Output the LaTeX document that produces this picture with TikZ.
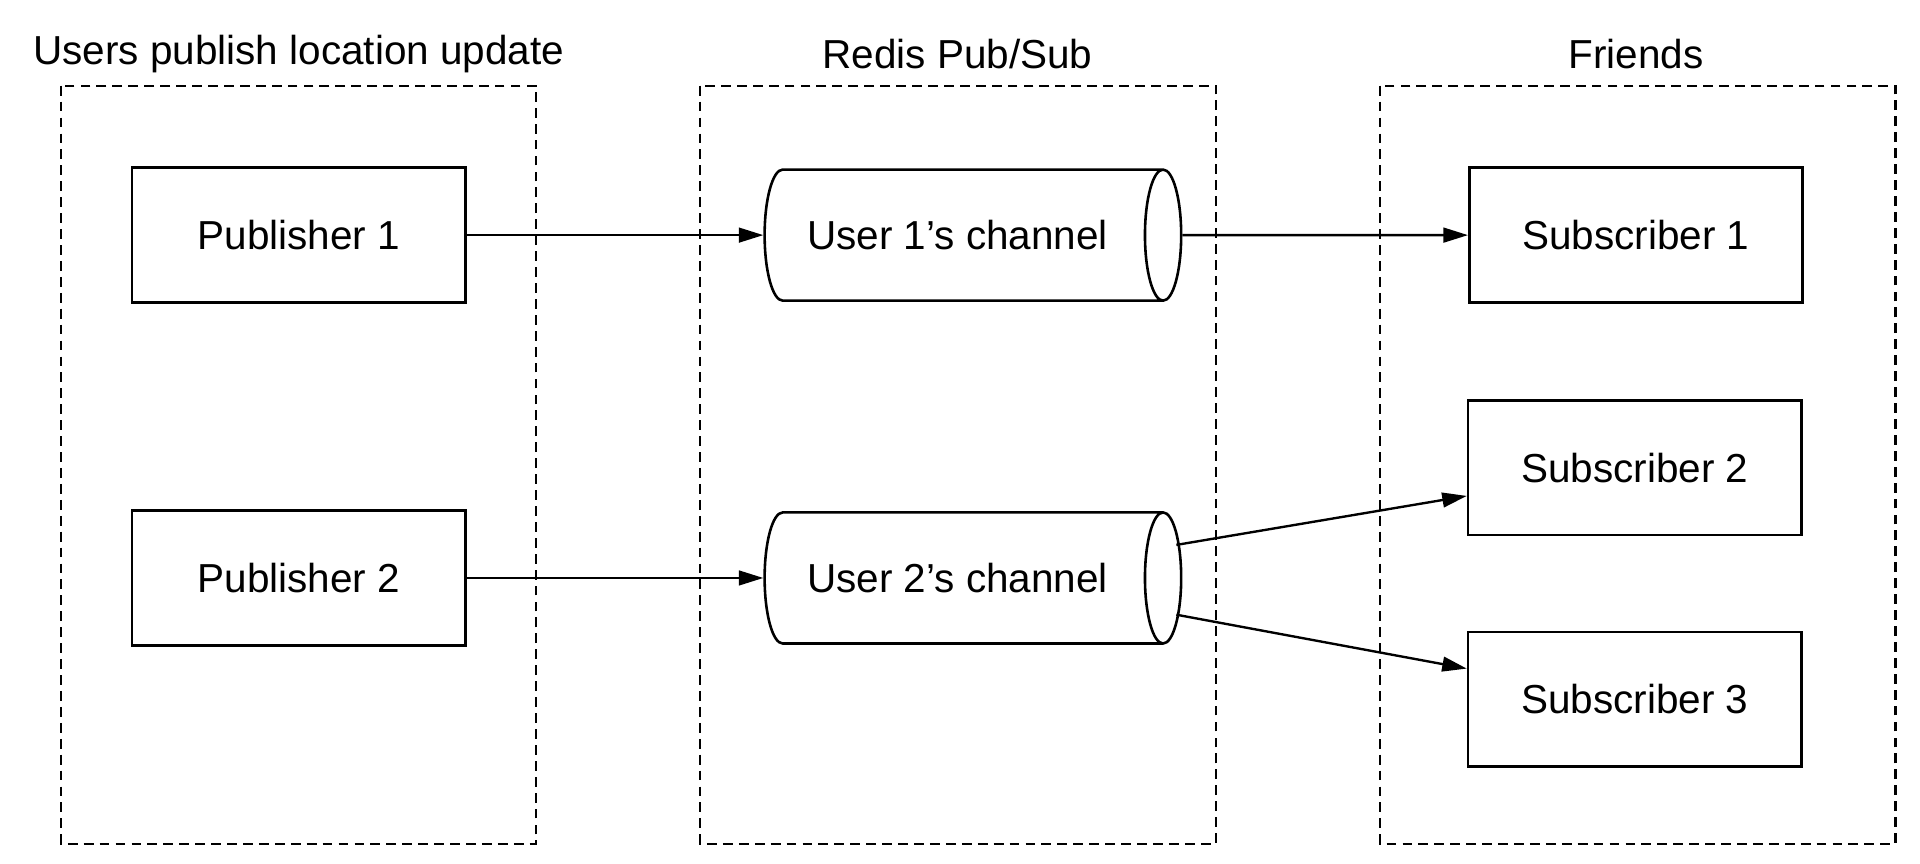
\documentclass[tikz,border=0pt]{standalone}
\usepackage{fontspec}
\setmainfont{Liberation Sans}
\usetikzlibrary{arrows.meta, positioning, calc, shapes.geometric}

\begin{document}
\begin{tikzpicture}
   [
      x=0.01cm, y=-0.01cm,
      group box/.style={draw, line width=0.5pt, dash pattern=on 0.08cm off 0.05cm},
      group title/.style={font=\fontsize{9.4}{11}\selectfont},
      client box/.style={rectangle, draw, line width=0.6pt, minimum width=2.72cm,
                         minimum height=1.1cm, font=\fontsize{9.4}{11}\selectfont},
      channel/.style={cylinder, draw, line width=0.6pt, aspect=0.62,
                      minimum width=1.07cm, minimum height=3.4cm,
                      font=\fontsize{9.4}{11}\selectfont},
      flow/.style={line width=0.55pt, -{Triangle[length=0.2cm, width=0.12cm]}}
   ]
   \useasboundingbox (0,0) rectangle (1568,705);

   % Group frames
   \draw[group box] (50,70) rectangle (438,689);
   \draw[group box] (572,70) rectangle (993,689);
   \draw[group box] (1127,70) rectangle (1548,689);

   % Group titles
   \node[group title] (title_pub) at (244,44) {Users publish location update};
   \node[group title] (title_redis) at (782,44) {Redis Pub/Sub};
   \node[group title] (title_friends) at (1336,44) {Friends};

   % Publishers
   \node[client box] (pub1) at (244,192) {Publisher 1};
   \node[client box] (pub2) at (244,472) {Publisher 2};

   % Channels
   \node[channel] (chan1) at (782,192) {User 1’s channel};
   \node[channel] (chan2) at (782,472) {User 2’s channel};

   % Subscribers
   \node[client box] (sub1) at (1336,192) {Subscriber 1};
   \node[client box] (sub2) at (1335,382) {Subscriber 2};
   \node[client box] (sub3) at (1335,571) {Subscriber 3};

   % Message flow
   \draw[flow] (pub1.east) -- (chan1.west);
   \draw[flow] (pub2.east) -- (chan2.west);
   \draw[flow] (chan1.east) -- (sub1.west);
   \draw[flow] ($(chan2.east)+(-5,-27)$) -- ($(sub2.west)+(0,23)$);
   \draw[flow] ($(chan2.east)+(-5,30)$) -- ($(sub3.west)+(0,-25)$);

\end{tikzpicture}
\end{document}
